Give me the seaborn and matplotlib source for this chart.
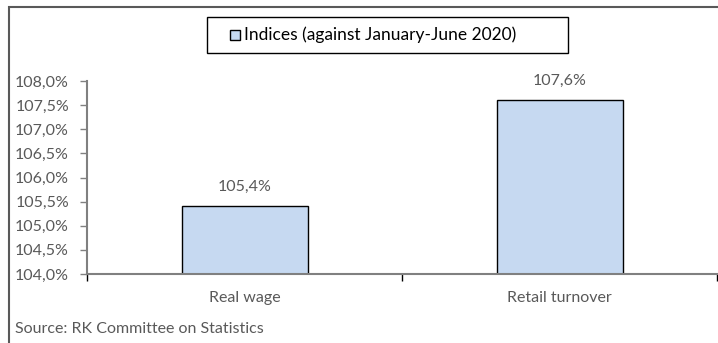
import matplotlib
matplotlib.use("Agg")
import matplotlib.pyplot as plt
from matplotlib.patches import Rectangle
from matplotlib.ticker import FuncFormatter, MultipleLocator
import seaborn as sns
import pandas as pd

categories = ["Real wage", "Retail turnover"]
values = [105.4, 107.6]
series_name = "Indices (against January-June 2020)"
source_note = "Source: RK Committee on Statistics"

sns.set_theme(style="white")
plt.rcParams["font.family"] = ["Lato", "DejaVu Sans"]

W, H = 718, 343
fig = plt.figure(figsize=(W / 100, H / 100), dpi=100)
ax = fig.add_axes([87 / W, 1 - 274 / H, (717 - 87) / W, (274 - 81) / H])

df = pd.DataFrame({"category": categories, "value": values, "series": series_name})
sns.barplot(data=df, x="category", y="value", hue="series", ax=ax,
            palette=["#c6d9f1"], edgecolor="black", linewidth=1.0,
            width=0.4, saturation=1, legend=False)

ax.set_ylim(104, 108)
ax.set_xlim(-0.5, 1.5)
ax.yaxis.set_major_locator(MultipleLocator(0.5))
ax.yaxis.set_major_formatter(FuncFormatter(lambda v, _: f"{v:.1f}%".replace(".", ",")))
ax.set_xlabel("")
ax.set_ylabel("")

grey = "#808080"
text_grey = "#595959"
fs = 11.5
for side in ["top", "right"]:
    ax.spines[side].set_visible(False)
for side in ["left", "bottom"]:
    ax.spines[side].set_color(grey)
    ax.spines[side].set_linewidth(1.5)

ax.tick_params(axis="y", which="major", direction="out", length=5, width=1,
               color=grey, left=True, labelsize=fs, labelcolor=text_grey, pad=8)
ax.tick_params(axis="x", which="major", bottom=False, length=0, labelsize=fs,
               labelcolor=text_grey, pad=12)
# category boundary ticks on the x axis
ax.set_xticks([-0.5, 0.5, 1.5], minor=True)
ax.tick_params(axis="x", which="minor", bottom=True, direction="out", length=5,
               width=1, color="black")

for i, v in enumerate(values):
    ax.text(i, v + 0.25, f"{v:.1f}%".replace(".", ","), ha="center", va="bottom",
            fontsize=fs, color=text_grey)

# legend box
fig.patches.append(Rectangle((207 / W, 1 - 53 / H), (568 - 207) / W, 36 / H,
                             transform=fig.transFigure, fill=False,
                             edgecolor="black", linewidth=1.0))
fig.patches.append(Rectangle((230 / W, 1 - 40 / H), 10 / W, 10 / H,
                             transform=fig.transFigure, facecolor="#c6d9f1",
                             edgecolor="black", linewidth=1.0))
fig.text(244 / W, 1 - 35 / H, series_name, ha="left", va="center",
         fontsize=12.5, color="black")

# outer chart frame
fig.patches.append(Rectangle((9 / W, -0.1), 1.2, 1 - 7 / H + 0.1,
                             transform=fig.transFigure, fill=False,
                             edgecolor="#595959", linewidth=1.5))

fig.text(15 / W, 1 - 329 / H, source_note, ha="left", va="center",
         fontsize=fs, color=text_grey)

fig.savefig("out.png", dpi=100)
